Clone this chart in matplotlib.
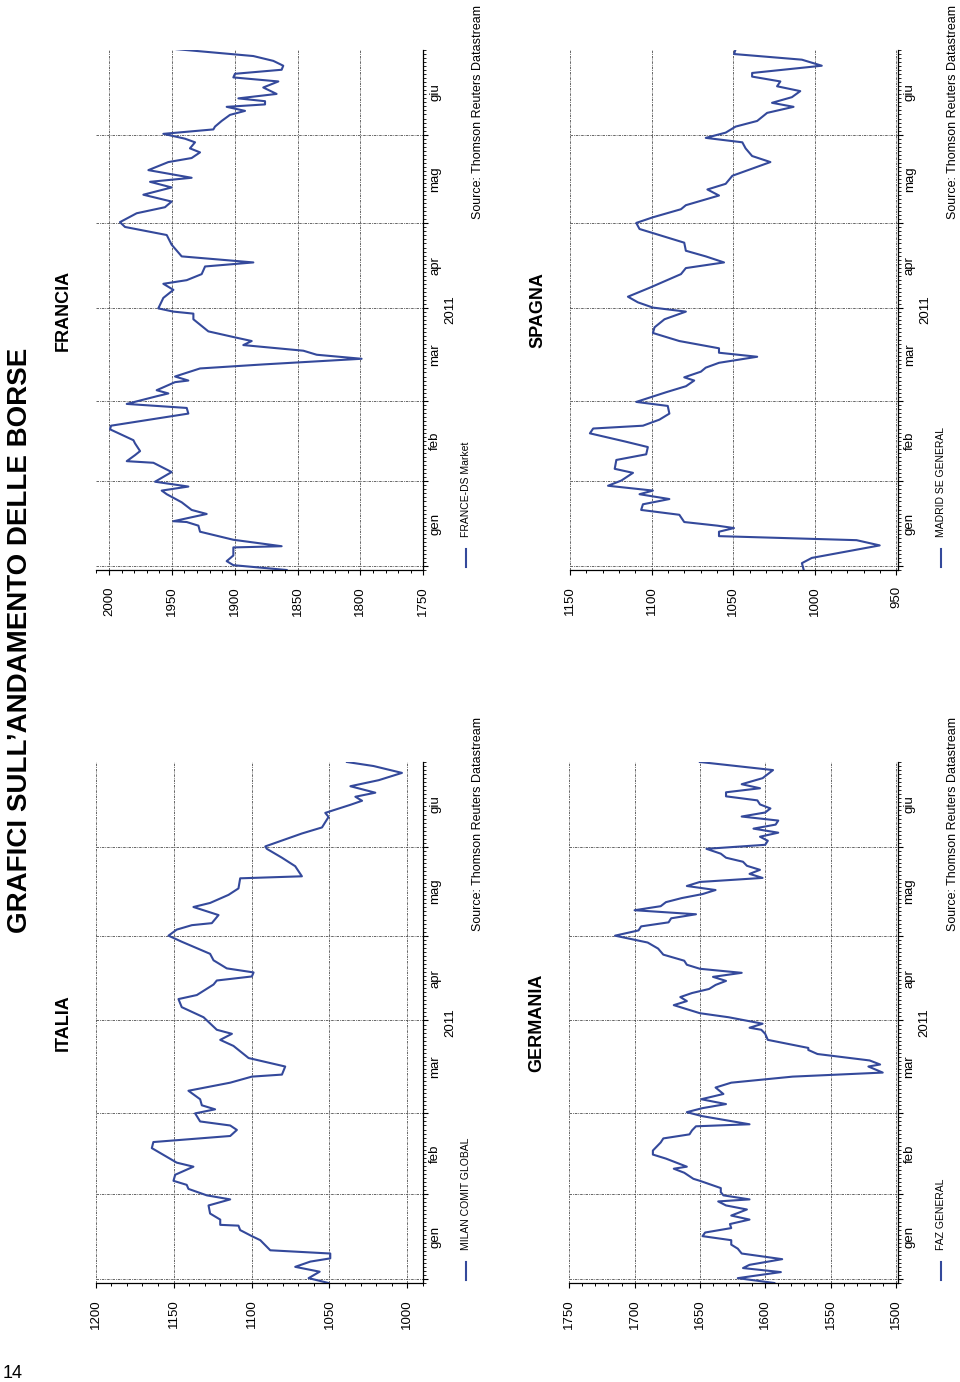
import numpy as np
import matplotlib
matplotlib.use('Agg')
import matplotlib.pyplot as plt
from matplotlib.ticker import MultipleLocator, FixedLocator, NullFormatter

plt.rcParams['font.family'] = ['Liberation Sans', 'DejaVu Sans']

# time axis: trading-day index in 2011 (gen..giu)
month_start = [0, 21, 41, 64, 85, 107]
month_mid = [10.5, 31, 52.5, 74.5, 96, 117.5]
month_lab = ['gen', 'feb', 'mar', 'apr', 'mag', 'giu']

italia_day = [-1.0, 0.2, 1.8, 3.0, 4.3, 5.1, 6.3, 7.1, 9.6, 10.6, 12.1, 13.2, 13.4, 14.7,
              16.2, 18.2, 19.7, 20.7, 22.3, 23.3, 24.3, 25.8, 27.8, 28.8, 32.4, 33.9, 35.4,
              36.9, 38.0, 39.0, 41.0, 42.0, 43.0, 44.5, 46.6, 48.6, 50.1, 50.6, 52.6, 54.7,
              57.7, 59.2, 60.7, 61.7, 64.8, 67.3, 69.3, 70.3, 72.9, 73.9, 74.9, 75.9, 76.9,
              78.9, 80.5, 83.5, 85.0, 86.5, 87.6, 88.1, 90.1, 92.1, 93.1, 95.1, 96.7, 99.2,
              99.7, 102.2, 104.3, 106.5, 107.1, 110.3, 111.8, 114.4, 115.4, 116.2, 117.4,
              118.4, 119.4, 120.4, 122.0, 123.5, 125.3, 127.0, 128.0]
italia_val = [1050.6, 1063.4, 1056.3, 1072.0, 1062.3, 1049.5, 1049.5, 1088.0, 1094.4, 1099.8,
              1107.3, 1108.4, 1120.1, 1120.1, 1126.6, 1127.6, 1113.7, 1128.7, 1140.5, 1141.6,
              1150.1, 1149.0, 1137.3, 1148.0, 1164.0, 1163.0, 1113.7, 1109.4, 1113.7, 1133.0,
              1136.2, 1123.4, 1131.9, 1133.0, 1140.5, 1113.7, 1099.8, 1080.5, 1078.4, 1101.9,
              1111.6, 1120.1, 1112.6, 1122.3, 1130.8, 1144.8, 1146.9, 1135.1, 1124.4, 1122.3,
              1099.8, 1098.7, 1115.9, 1124.4, 1126.6, 1144.8, 1153.3, 1148.0, 1138.3, 1125.5,
              1121.2, 1137.3, 1126.6, 1114.8, 1108.4, 1107.3, 1067.7, 1072.0, 1080.5, 1090.2,
              1091.2, 1067.7, 1054.8, 1050.6, 1052.7, 1046.3, 1036.6, 1029.1, 1033.4, 1020.6,
              1036.6, 1018.4, 1003.5, 1021.7, 1038.8]

francia_day = [-1.0, 0.2, 1.2, 2.6, 4.6, 4.9, 6.5, 8.5, 10.0, 10.9, 11.1, 12.9, 13.9, 15.8,
               17.8, 18.7, 19.7, 20.9, 23.3, 25.6, 26.0, 27.5, 28.5, 30.4, 31.2, 33.9, 34.8,
               37.8, 39.2, 40.2, 42.1, 42.8, 43.6, 45.6, 46.0, 47.0, 49.0, 50.0, 51.4, 52.4,
               53.4, 54.8, 55.8, 56.8, 58.2, 61.2, 62.6, 63.1, 63.9, 66.5, 68.5, 70.0, 70.9,
               72.4, 74.3, 75.3, 76.8, 79.7, 82.1, 84.1, 85.3, 87.5, 89.0, 90.4, 92.1, 93.9,
               95.3, 96.3, 98.2, 100.2, 101.2, 102.6, 103.6, 105.1, 106.0, 107.2, 108.3, 109.0,
               110.4, 111.9, 112.9, 113.9, 114.5, 115.3, 116.0, 117.1, 118.7, 120.2, 121.2,
               122.1, 123.1, 124.1, 125.3, 126.5, 128.2]
francia_val = [1858.7, 1901.1, 1906.4, 1901.1, 1901.1, 1862.7, 1901.1, 1927.6, 1928.9, 1938.2,
               1948.8, 1922.3, 1934.3, 1942.2, 1954.1, 1958.1, 1936.9, 1963.4, 1950.2, 1964.7,
               1985.9, 1979.3, 1975.3, 1979.3, 1980.6, 1999.2, 1998.4, 1936.9, 1938.2, 1985.9,
               1962.1, 1952.8, 1962.1, 1947.5, 1936.9, 1947.5, 1927.6, 1877.3, 1799.1, 1834.8,
               1845.4, 1893.2, 1886.5, 1901.1, 1921.0, 1932.9, 1932.9, 1948.8, 1960.8, 1956.8,
               1948.8, 1956.8, 1938.2, 1926.3, 1923.6, 1885.2, 1942.2, 1950.2, 1954.1, 1987.3,
               1991.3, 1978.0, 1955.5, 1950.2, 1972.7, 1950.2, 1967.4, 1934.3, 1968.7, 1952.8,
               1934.3, 1927.6, 1935.6, 1931.6, 1939.6, 1956.8, 1917.0, 1915.7, 1910.4, 1903.8,
               1891.8, 1906.4, 1875.9, 1875.9, 1897.1, 1866.7, 1877.3, 1865.3, 1901.1, 1899.8,
               1862.7, 1861.4, 1869.3, 1885.2, 1946.2]

germania_day = [-1.0, 0.2, 1.7, 2.7, 3.5, 4.9, 6.3, 7.5, 8.5, 9.6, 10.6, 11.5, 12.6, 13.6,
                14.7, 15.7, 17.2, 18.2, 19.2, 19.7, 20.7, 21.5, 22.5, 24.3, 24.8, 26.3, 27.3,
                27.8, 28.8, 29.8, 30.8, 31.8, 32.8, 33.8, 34.8, 35.8, 36.8, 37.8, 38.3, 39.3,
                40.3, 41.3, 42.3, 43.3, 44.5, 45.8, 47.4, 48.6, 50.1, 51.1, 52.6, 53.1, 54.1,
                55.7, 56.7, 57.2, 59.2, 60.7, 61.7, 62.2, 63.2, 64.8, 65.8, 66.8, 67.8, 68.8,
                69.8, 70.8, 71.8, 72.8, 73.8, 74.8, 75.8, 76.8, 77.8, 78.8, 80.3, 81.8, 83.3,
                85.0, 86.3, 87.3, 88.3, 89.3, 90.3, 91.3, 92.3, 93.3, 94.3, 95.3, 96.3, 97.3,
                98.3, 99.3, 100.3, 101.3, 102.3, 103.3, 104.3, 105.3, 106.5, 107.5, 108.5,
                109.5, 110.5, 111.5, 112.5, 113.5, 114.5, 115.5, 116.5, 117.5, 118.5, 119.5,
                120.5, 121.5, 122.5, 124.0, 126.0, 128.0]
germania_val = [1593, 1621, 1588, 1617, 1612, 1587, 1618, 1621, 1626, 1626, 1648, 1646, 1626,
                1627, 1612, 1626, 1614, 1630, 1636, 1612, 1632, 1634, 1634, 1650, 1655, 1662,
                1670, 1660, 1668, 1676, 1686, 1686, 1683, 1680, 1678, 1658, 1656, 1653, 1612,
                1630, 1648, 1660, 1648, 1630, 1649, 1632, 1638, 1626, 1579, 1510, 1521, 1512,
                1520, 1560, 1567, 1567, 1598, 1600, 1603, 1612, 1602, 1628, 1650, 1660, 1670,
                1660, 1665, 1656, 1643, 1638, 1630, 1640, 1618, 1650, 1660, 1662, 1678, 1682,
                1690, 1715, 1697, 1695, 1674, 1672, 1653, 1700, 1680, 1676, 1664, 1648, 1638,
                1660, 1650, 1602, 1612, 1604, 1614, 1617, 1630, 1634, 1645, 1600, 1598, 1604,
                1590, 1609, 1592, 1590, 1618, 1600, 1596, 1604, 1606, 1630, 1630, 1604, 1618,
                1602, 1594, 1650]

spagna_day = [-0.8, 0.7, 2.0, 5.1, 6.4, 7.4, 8.5, 9.4, 10.0, 10.9, 12.7, 13.9, 15.3, 16.6,
              17.8, 18.7, 19.9, 21.2, 23.1, 24.1, 26.3, 27.7, 29.5, 30.9, 32.9, 34.1, 34.8,
              36.3, 37.8, 39.7, 40.7, 43.1, 44.6, 46.0, 46.8, 48.2, 49.2, 50.4, 51.9, 52.9,
              54.0, 55.8, 57.8, 59.2, 61.2, 63.1, 64.1, 65.4, 66.8, 69.0, 72.4, 73.9, 75.3,
              76.8, 78.2, 80.2, 83.6, 85.1, 86.5, 88.5, 89.5, 91.9, 93.4, 94.8, 96.8, 100.2,
              101.7, 103.6, 105.1, 106.2, 107.5, 109.0, 110.4, 112.4, 113.9, 114.9, 116.3,
              117.8, 119.0, 120.2, 121.4, 122.3, 124.1, 125.6, 127.0, 128.2]
spagna_val = [1006.9, 1007.9, 1001.8, 960.2, 974.4, 1058.7, 1058.7, 1049.5, 1059.7, 1080.0,
              1083.0, 1106.4, 1105.3, 1089.1, 1107.4, 1099.2, 1126.7, 1118.5, 1111.4, 1122.6,
              1121.6, 1103.3, 1102.3, 1116.5, 1137.8, 1135.8, 1105.3, 1095.2, 1089.1, 1090.1,
              1109.4, 1091.1, 1078.9, 1073.9, 1080.0, 1069.8, 1066.8, 1058.7, 1035.3, 1058.7,
              1058.7, 1083.0, 1099.2, 1098.2, 1092.1, 1079.0, 1099.2, 1108.4, 1114.5, 1101.3,
              1082.0, 1079.0, 1055.6, 1066.8, 1079.0, 1080.0, 1107.4, 1109.4, 1099.2, 1082.0,
              1079.0, 1058.7, 1065.8, 1054.6, 1050.5, 1027.2, 1038.4, 1042.4, 1044.4, 1066.8,
              1054.6, 1048.5, 1035.3, 1029.2, 1013.0, 1026.2, 1014.0, 1008.9, 1023.1, 1021.1,
              1038.4, 1038.4, 995.7, 1007.9, 1049.5, 1048.5]

LINE = '#34499b'
GRID = '#4d4d4d'
W, H = 960, 1382


def px(v):
    # pixels -> points (figure is 100 dpi)
    return v * 0.72


def rect(x0, x1, ytop, ybot):
    return [x0 / W, 1 - ybot / H, (x1 - x0) / W, (ybot - ytop) / H]


fig = plt.figure(figsize=(W / 100, H / 100), dpi=100)


def panel(r, day, val, vlim, title, series):
    ax = fig.add_axes(r)
    wpx, hpx = r[2] * W, r[3] * H
    ax.plot(val, day, color=LINE, lw=1.5)
    ax.set_xlim(*vlim)
    ax.set_ylim(-1, 128)

    ax.xaxis.set_major_locator(MultipleLocator(50))
    ax.xaxis.set_minor_locator(MultipleLocator(10))
    ax.tick_params(axis='x', which='major', direction='out', length=3.6, width=0.8,
                   labelsize=9.5, labelrotation=90, pad=8)
    ax.tick_params(axis='x', which='minor', direction='out', length=2.2, width=0.7)

    ax.yaxis.tick_right()
    ax.yaxis.set_major_locator(FixedLocator(month_start))
    ax.yaxis.set_major_formatter(NullFormatter())
    ax.yaxis.set_minor_locator(MultipleLocator(1))
    ax.tick_params(axis='y', which='major', direction='out', length=3.5, width=0.8)
    ax.tick_params(axis='y', which='minor', direction='out', length=2.2, width=0.6)

    ax.grid(True, which='major', color=GRID, lw=0.6, ls=(0, (3, 1.2, 1, 1.2)))
    for s in ('top', 'left'):
        ax.spines[s].set_visible(False)
    for s in ('right', 'bottom'):
        ax.spines[s].set_linewidth(0.9)

    for d, lab in zip(month_mid, month_lab):
        ax.annotate(lab, xy=(1, d), xycoords=('axes fraction', 'data'),
                    xytext=(px(12), 0), textcoords='offset points',
                    rotation=90, ha='center', va='center', fontsize=9.5)
    ax.annotate('2011', xy=(1, 0.5), xycoords='axes fraction',
                xytext=(px(27), 0), textcoords='offset points',
                rotation=90, ha='center', va='center', fontsize=9.5)

    ax.annotate(title, xy=(0, 0.5), xycoords='axes fraction',
                xytext=(-px(28), 0), textcoords='offset points',
                rotation=90, rotation_mode='anchor', ha='center', va='baseline',
                fontsize=13, fontweight='bold')

    # legend key
    ax.plot([1 + 43 / wpx] * 2, [3 / hpx, 21 / hpx], color=LINE, lw=1.5,
            transform=ax.transAxes, clip_on=False)
    ax.annotate(series, xy=(1, 0), xycoords='axes fraction',
                xytext=(px(43), px(33)), textcoords='offset points',
                rotation=90, rotation_mode='anchor', ha='left', va='center',
                fontsize=7.5)
    ax.annotate('Source: Thomson Reuters Datastream', xy=(1, 1), xycoords='axes fraction',
                xytext=(px(55), px(45)), textcoords='offset points',
                rotation=90, rotation_mode='anchor', ha='right', va='center',
                fontsize=9)
    return ax


panel(rect(95.7, 423.0, 762, 1283), italia_day, italia_val, (1200, 990),
      'ITALIA', 'MILAN COMIT GLOBAL')
panel(rect(95.7, 423.3, 50, 570), francia_day, francia_val, (2010.6, 1750),
      'FRANCIA', 'FRANCE-DS Market')
panel(rect(569.3, 897.5, 762, 1283), germania_day, germania_val, (1750, 1498.7),
      'GERMANIA', 'FAZ GENERAL')
panel(rect(570.0, 898.0, 50, 570), spagna_day, spagna_val, (1150, 949),
      'SPAGNA', 'MADRID SE GENERAL')

fig.text(27 / W, 1 - 640 / H, 'GRAFICI SULL\u2019ANDAMENTO DELLE BORSE', rotation=90,
         rotation_mode='anchor', ha='center', va='baseline', fontsize=20,
         fontweight='bold')
fig.text(3 / W, 1 - 1378 / H, '14', fontsize=13, ha='left', va='baseline')

fig.savefig('out.png', dpi=100)
